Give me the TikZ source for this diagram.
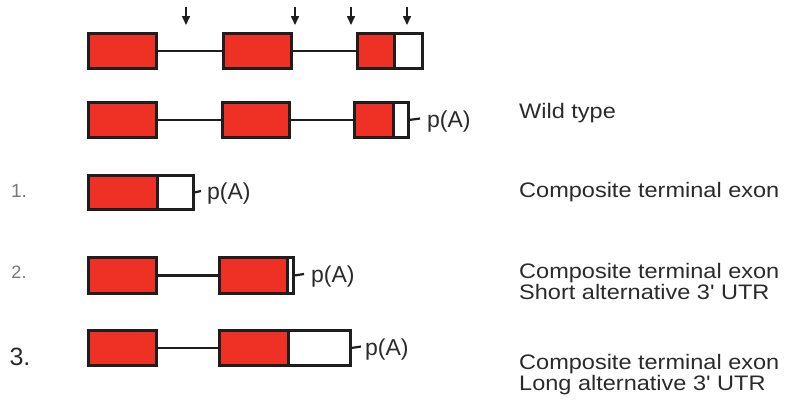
\documentclass[tikz,border=0pt]{standalone}
\usepackage{fontspec}
\setmainfont{Liberation Sans}
\newfontfamily\descfont[FakeStretch=1.12]{Liberation Sans}
\usetikzlibrary{arrows.meta}
\definecolor{exred}{HTML}{EE3124}
\definecolor{edge}{HTML}{1E1E1E}
\definecolor{txt}{HTML}{2A2A2A}
\definecolor{numgray}{HTML}{777777}
\tikzset{
  exon/.style={draw=edge, line width=2.8pt, fill=exred, inner sep=0pt, anchor=north west},
  utr/.style={draw=edge, line width=2.8pt, fill=white, inner sep=0pt, anchor=north west},
  intron/.style={draw=edge, line width=2.2pt},
  tick/.style={draw=edge, line width=2.2pt},
  pa/.style={anchor=base west, inner sep=0pt, font=\fontsize{23}{23}\selectfont, text=txt},
  desc/.style={anchor=base west, inner sep=0pt, font=\descfont\fontsize{21}{20.5}\selectfont, text=txt, align=left},
  site/.style={draw=edge, line width=1.6pt, -{Triangle[length=9pt,width=8pt]}}
}
\begin{document}
\begin{tikzpicture}[x=1pt,y=-1pt]
\useasboundingbox (0,0) rectangle (786,400);
% ---- row 0 (pre-mRNA)
\node[exon, minimum width=68pt, minimum height=35pt] (a1) at (87,32) {};
\node[exon, minimum width=68pt, minimum height=35pt] (a2) at (222,32) {};
\node[exon, minimum width=37pt, minimum height=35pt] (a3) at (356,32) {};
\node[utr, minimum width=28pt, minimum height=35pt] (a3u) at (393,32) {};
\draw[intron] (a1.east) -- (a2.west);
\draw[intron] (a2.east) -- (a3.west);
\foreach \i/\x in {1/186,2/295,3/351,4/407}{
  \coordinate (s\i) at (\x,7);
  \coordinate (t\i) at (\x,25);
  \draw[site] (s\i) -- (t\i);
}
% ---- row 1 wild type
\node[exon, minimum width=68pt, minimum height=35pt] (b1) at (87,101) {};
\node[exon, minimum width=67pt, minimum height=35pt] (b2) at (221,101) {};
\node[exon, minimum width=39pt, minimum height=35pt] (b3) at (353,101) {};
\node[utr, minimum width=15pt, minimum height=35pt] (b3u) at (392,101) {};
\draw[intron] (b1.east) -- (b2.west);
\draw[intron] (b2.east) -- (b3.west);
\coordinate (bt) at (420,118.5);
\draw[tick] (b3u.east) -- (bt);
\node[pa] (bpa) at (427,127) {p(A)};
\node[desc] (bd) at (519,118) {Wild type};
% ---- row 2 (1.)
\node[anchor=center, font=\fontsize{19}{19}\selectfont, text=numgray] (n1) at (19,191) {1.};
\node[exon, minimum width=69pt, minimum height=34pt] (c1) at (87,174) {};
\node[utr, minimum width=36pt, minimum height=34pt] (c1u) at (156,174) {};
\coordinate (ct) at (201,191);
\draw[tick] (c1u.east) -- (ct);
\node[pa] (cpa) at (207,199) {p(A)};
\node[desc] (cd) at (519,197) {Composite terminal exon};
% ---- row 3 (2.)
\node[anchor=center, font=\fontsize{18}{18}\selectfont, text=numgray] (n2) at (19,272) {2.};
\node[exon, minimum width=68pt, minimum height=36pt] (d1) at (87,256) {};
\node[exon, minimum width=68pt, minimum height=36pt] (d2) at (218,256) {};
\node[utr, minimum width=6pt, minimum height=36pt] (d2u) at (286,256) {};
\draw[intron] (d1.east) -- (d2.west);
\coordinate (dt) at (304,274);
\draw[tick] (d2u.east) -- (dt);
\node[pa] (dpa) at (311,282) {p(A)};
\node[desc] (dd) at (519,299) {Composite terminal exon\\Short alternative 3' UTR};
% ---- row 4 (3.)
\node[anchor=center, font=\fontsize{25}{25}\selectfont, text=txt] (n3) at (20,357) {3.};
\node[exon, minimum width=68pt, minimum height=35pt] (e1) at (87,329) {};
\node[exon, minimum width=69pt, minimum height=35pt] (e2) at (218,329) {};
\node[utr, minimum width=62pt, minimum height=35pt] (e2u) at (287,329) {};
\draw[intron] (e1.east) -- (e2.west);
\coordinate (et) at (361,346.5);
\draw[tick] (e2u.east) -- (et);
\node[pa] (epa) at (365,355) {p(A)};
\node[desc] (ed) at (519,390) {Composite terminal exon\\Long alternative 3' UTR};
\end{tikzpicture}
\end{document}
